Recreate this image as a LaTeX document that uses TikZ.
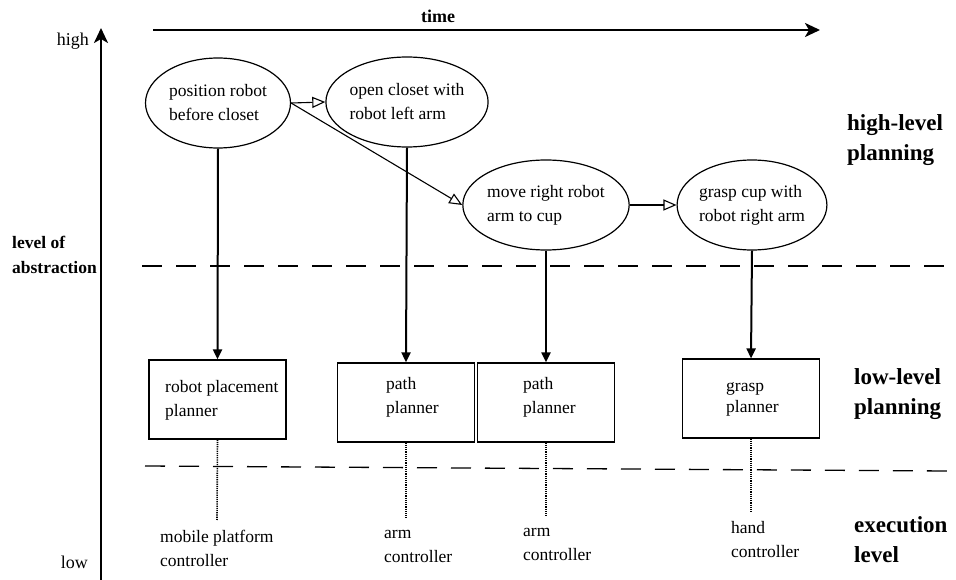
\documentclass[tikz,border=0pt]{standalone}
\usepackage{fontspec}
\setmainfont{Liberation Serif}
\usetikzlibrary{arrows.meta,shapes.geometric}
\begin{document}
\begin{tikzpicture}[x=1pt,y=-1pt,
  task/.style={ellipse,draw,line width=1.2pt,minimum width=145pt,minimum height=90pt,
    inner sep=0pt,align=left,font=\fontsize{17.5}{24}\selectfont},
  planbox/.style={rectangle,draw,line width=1.2pt,minimum width=137pt,minimum height=79pt,inner sep=0pt},
  txt/.style={anchor=base west,inner sep=0pt,align=left,font=\fontsize{17.5}{23.5}\selectfont},
  layer/.style={anchor=base west,inner sep=0pt,align=left,font=\fontsize{23}{30}\selectfont\bfseries},
  seq/.style={line width=1.1pt,-{Triangle[open,length=13pt,width=11pt]}},
  refine/.style={line width=2pt,-{Triangle[length=10pt,width=9pt]}},
  exec/.style={line width=1.6pt,dash pattern=on 1.2pt off 1pt},
  sep/.style={line width=1.3pt,dash pattern=on 20pt off 14pt},
  axis/.style={line width=2.4pt,-{Stealth[length=15pt,width=14pt,inset=4pt]}}
]
\useasboundingbox (0,0) rectangle (956,580);

% abstraction axis (multi-line nodes are placed by the baseline of their last line)
\coordinate (abot) at (101,580);
\coordinate (atop) at (101,28);
\draw[axis] (abot) -- (atop);
\node[anchor=base east,inner sep=0pt,font=\fontsize{18}{20}\selectfont] (high) at (89,46) {high};
\node[anchor=base east,inner sep=0pt,font=\fontsize{18}{20}\selectfont] (low) at (88,568) {low};
\node[anchor=base west,inner sep=0pt,align=left,font=\fontsize{17.5}{25}\selectfont\bfseries] (abs) at (12,273) {level of\\abstraction};

% time axis
\coordinate (tstart) at (153,30);
\coordinate (tend) at (820,30);
\draw[axis] (tstart) -- (tend);
\node[inner sep=0pt,font=\fontsize{18}{20}\selectfont\bfseries] (time) at (438,16) {time};

% layer separators
\coordinate (s1a) at (142,266);
\coordinate (s1b) at (945,266);
\coordinate (s2a) at (145,466);
\coordinate (s2b) at (948,471);
\draw[sep] (s1a) -- (s1b);
\draw[sep] (s2a) -- (s2b);

% layer labels
\node[layer] (hl) at (847,161) {high-level\\planning};
\node[layer] (ll) at (854,414) {low-level\\planning};
\node[layer] (ex) at (854,562) {execution\\level};

% high-level tasks
\node[task] (e1) at (218,103) {position robot\\before closet};
\node[task] (e2) at (407,102) {open closet with\\robot left arm};
\node[task] (e3) at (546,205) {move right robot\\arm to cup};
\node[task] (e4) at (752,205) {grasp cup with\\robot right arm};

\draw[seq] (e1.east) -- (e2.west);
\draw[seq] (e1.east) -- (e3.west);
\draw[seq] (e3.east) -- (e4.west);

% low-level planners
\node[planbox] (b1) at (217.5,399.5) {};
\node[planbox] (b2) at (406,402.5) {};
\node[planbox] (b3) at (546,402.5) {};
\node[planbox] (b4) at (751,398.5) {};
\node[txt] (b1t) at (165,416) {robot placement\\planner};
\node[txt] (b2t) at (386,413) {path\\planner};
\node[txt] (b3t) at (523,413) {path\\planner};
\node[txt,font=\fontsize{17.5}{21}\selectfont] (b4t) at (726,412) {grasp\\planner};

\draw[refine] (e1.south) -- (b1.north);
\draw[refine] (e2.south) -- (b2.north);
\draw[refine] (e3.south) -- (b3.north);
\draw[refine] (e4.south) -- (b4.north);

% execution level
\coordinate (c1) at (217,520);
\coordinate (c2) at (406,518);
\coordinate (c3) at (546,516);
\coordinate (c4) at (751,513);
\draw[exec] (b1.south) -- (c1);
\draw[exec] (b2.south) -- (c2);
\draw[exec] (b3.south) -- (c3);
\draw[exec] (b4.south) -- (c4);
\node[txt] (k1) at (160,566) {mobile platform\\controller};
\node[txt] (k2) at (384,562) {arm\\controller};
\node[txt] (k3) at (523,560) {arm\\controller};
\node[txt] (k4) at (731,557) {hand\\controller};
\end{tikzpicture}
\end{document}
